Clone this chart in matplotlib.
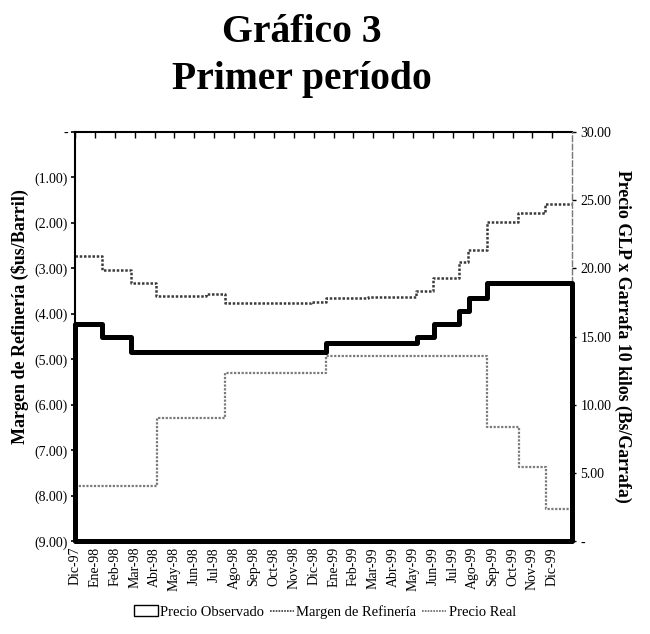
import matplotlib.pyplot as plt
from matplotlib.patches import Patch
from matplotlib.lines import Line2D

plt.rcParams['font.family'] = ['Liberation Serif', 'DejaVu Serif']

months = ["Dic-97", "Ene-98", "Feb-98", "Mar-98", "Abr-98", "May-98", "Jun-98",
          "Jul-98", "Ago-98", "Sep-98", "Oct-98", "Nov-98", "Dic-98", "Ene-99",
          "Feb-99", "Mar-99", "Abr-99", "May-99", "Jun-99", "Jul-99", "Ago-99",
          "Sep-99", "Oct-99", "Nov-99", "Dic-99"]

# Precio Observado (Bs/Garrafa, right axis) - step breakpoints in month units
obs_x = [0, 1.34, 2.83, 12.62, 17.2, 18.05, 19.3, 19.8, 20.73, 25]
obs_y = [15.93, 14.96, 13.91, 14.5, 15.0, 15.93, 16.9, 17.85, 18.9, 18.9]

# Margen de Refineria ($us/Barril, left axis)
margen_x = [0, 1.34, 2.81, 4.07, 6.61, 7.53, 11.88, 12.6, 14.72, 17.12, 17.99,
            19.29, 19.78, 20.72, 22.29, 23.61, 25]
margen_y = [-2.73, -3.03, -3.33, -3.60, -3.57, -3.77, -3.74, -3.66, -3.63, -3.49,
            -3.21, -2.87, -2.59, -1.98, -1.79, -1.58, -1.58]

# Precio Real (Bs/Garrafa, right axis)
real_x = [0, 4.1, 7.53, 12.6, 20.7, 22.3, 23.7, 25]
real_y = [4.07, 9.02, 12.32, 13.55, 8.41, 5.43, 2.34, 2.34]

left_ticks = [0, -1, -2, -3, -4, -5, -6, -7, -8, -9]
left_labels = ["-"] + ["(%d.00)" % abs(v) for v in left_ticks[1:]]
right_ticks = [0, 5, 10, 15, 20, 25, 30]
right_labels = ["-"] + ["%d.00" % v for v in right_ticks[1:]]

fig = plt.figure(figsize=(6.5, 6.34), dpi=100)
ax1 = fig.add_axes([0.1154, 0.146, 0.765, 0.646])
ax2 = ax1.twinx()

dot = (0, (1, 0.7))
ax1.step(margen_x, margen_y, where='post', color='#3a3a3a', lw=1.8, linestyle=dot)
ax2.step(real_x, real_y, where='post', color='#7a7a7a', lw=1.6, linestyle=dot)
ax2.fill_between(obs_x, obs_y, 0, step='post', facecolor='none',
                 edgecolor='black', lw=3.6, clip_on=False, zorder=3)

ax1.set_xlim(0, 25)
ax1.set_ylim(-9, 0)
ax2.set_ylim(0, 30)

ax1.set_xticks(range(25))
ax1.set_xticklabels(months, rotation=90, fontsize=10)
ax1.tick_params(axis='x', bottom=False, top=True, direction='in', length=4,
                width=1, pad=4)
ax1.set_yticks(left_ticks)
ax1.set_yticklabels(left_labels, fontsize=10)
ax1.tick_params(axis='y', direction='out', length=3, width=1.2, pad=2)
ax2.set_yticks(right_ticks)
ax2.set_yticklabels(right_labels, fontsize=10)
ax2.tick_params(axis='y', direction='out', length=3, width=1, pad=3)

for s in ['left', 'top']:
    ax1.spines[s].set_linewidth(1.5)
ax1.spines['bottom'].set_linewidth(2.2)
ax1.spines['right'].set_visible(False)
for s in ['left', 'top', 'bottom']:
    ax2.spines[s].set_visible(False)
ax2.spines['right'].set_linestyle((0, (4, 2)))
ax2.spines['right'].set_color('#777777')
ax2.spines['right'].set_linewidth(1)

ax1.set_ylabel("Margen de Refinería ($us/Barril)", fontsize=13,
               fontweight='bold')
ax1.yaxis.set_label_coords(-0.093, 0.548)
ax2.set_ylabel("Precio GLP x Garrafa 10 kilos (Bs/Garrafa)", fontsize=12.8,
               fontweight='bold', rotation=-90, labelpad=14)

fig.text(0.465, 0.948, "Gráfico 3", ha='center', va='center', fontsize=28.5,
         fontweight='bold')
fig.text(0.465, 0.875, "Primer período", ha='center', va='center', fontsize=28.5,
         fontweight='bold')

handles = [Patch(facecolor='white', edgecolor='black', lw=1),
           Line2D([], [], color='#3a3a3a', lw=1.2, linestyle=dot),
           Line2D([], [], color='#666666', lw=1.2, linestyle=dot)]
fig.legend(handles, ["Precio Observado", "Margen de Refinería", "Precio Real"],
           loc='center', bbox_to_anchor=(0.5, 0.035), ncol=3, frameon=False,
           fontsize=10.5, handlelength=1.6, handletextpad=0.2,
           columnspacing=0.4)

fig.savefig("out.png", dpi=100)
